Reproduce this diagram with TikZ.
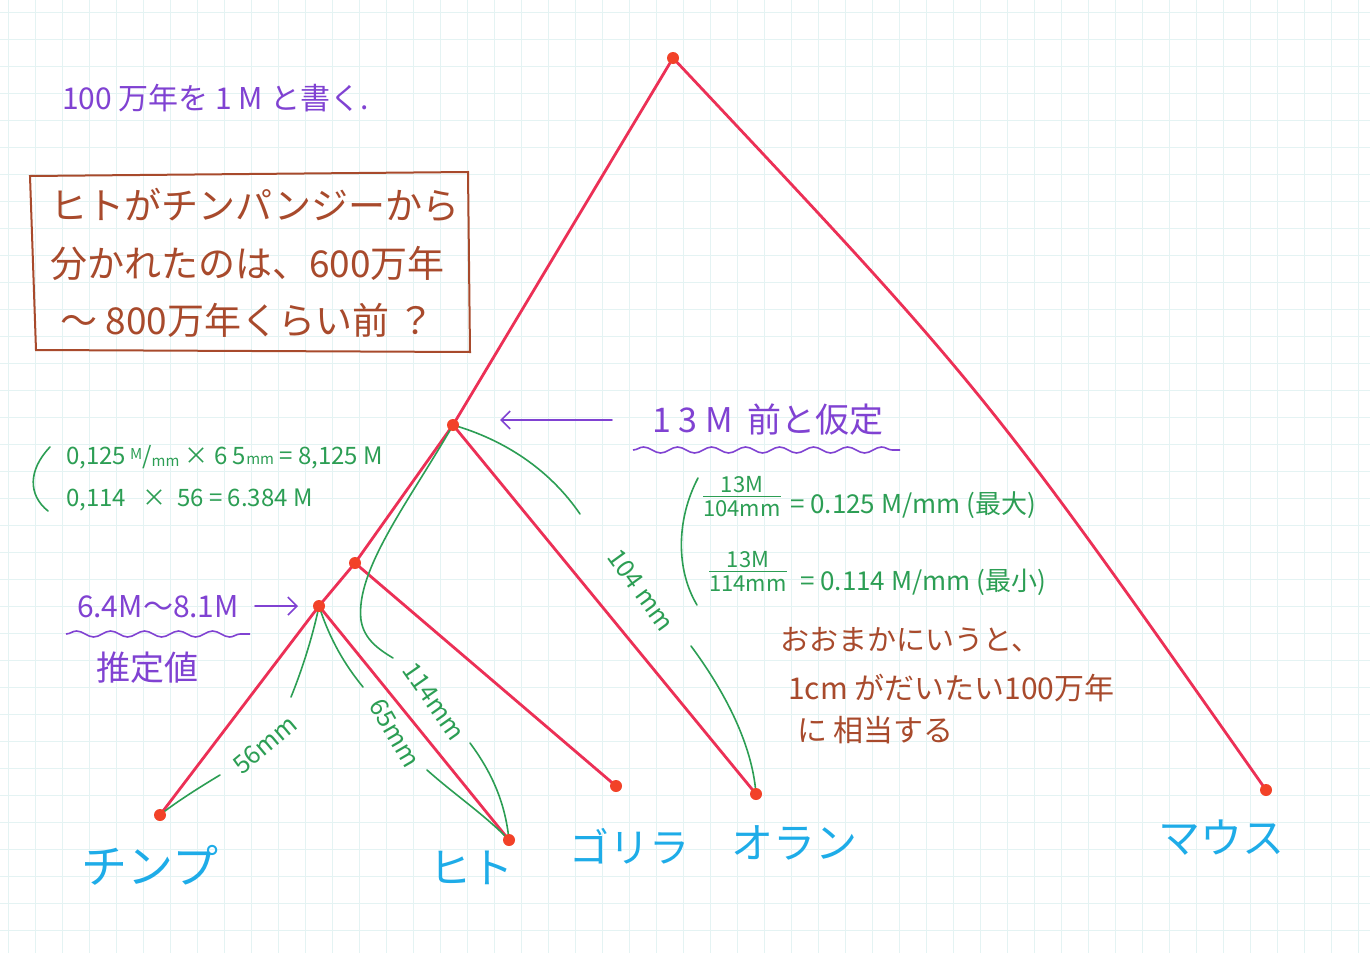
\documentclass[tikz,border=0pt]{standalone}
\usepackage{fontspec}
\setmainfont{Noto Sans CJK JP}
\usetikzlibrary{decorations.pathmorphing,arrows.meta}
\definecolor{redc}{RGB}{236,48,86}
\definecolor{dotc}{RGB}{242,66,40}
\definecolor{greenc}{RGB}{44,158,84}
\definecolor{purplec}{RGB}{128,66,210}
\definecolor{brownc}{RGB}{168,74,44}
\definecolor{cyanc}{RGB}{30,172,232}
\definecolor{gridc}{RGB}{228,243,243}
\newcommand\fsz[1]{\fontsize{#1}{#1}\selectfont}
\newcommand\smallunit{\fontsize{15}{15}\selectfont}
\begin{document}
\begin{tikzpicture}[x=1pt,y=-1pt,
  redl/.style={draw=redc, line width=2.8pt, line cap=round, line join=round},
  dot/.style={circle, fill=dotc, inner sep=0pt, minimum size=12pt},
  grn/.style={draw=greenc, line width=1.6pt, line cap=round},
  gtext/.style={text=greenc, inner sep=0pt},
  ptext/.style={text=purplec, inner sep=0pt},
  btext/.style={text=brownc, inner sep=0pt, anchor=west},
  ctext/.style={text=cyanc, inner sep=0pt},
  wavy/.style={draw=purplec, line width=1.6pt, decorate, decoration={snake, amplitude=3pt, segment length=34pt}},
  parr/.style={draw=purplec, line width=1.6pt, line cap=round, -{Straight Barb[length=9pt,width=18pt,line width=1.6pt]}},
]
\useasboundingbox (0,0) rectangle (1370,953);
\fill[white] (0,0) rectangle (1370,953);
% graph paper grid
\foreach \i in {0,...,51} { \draw[gridc, line width=0.8pt] ({\i*27+8},0) -- ({\i*27+8},953); }
\foreach \j in {0,...,35} { \draw[gridc, line width=0.8pt] (0,{\j*27+12}) -- (1370,{\j*27+12}); }

% tree coordinates
\coordinate (root) at (673,58);
\coordinate (n1) at (453,425);
\coordinate (n2) at (355,563);
\coordinate (n3) at (319,606);
\coordinate (chimp) at (160,815);
\coordinate (human) at (509,840);
\coordinate (gorilla) at (616,786);
\coordinate (oran) at (756,794);
\coordinate (mouse) at (1266,790);

% red branches
\draw[redl] (root) -- (n1) -- (n2) -- (n3) -- (chimp);
\draw[redl] (root) .. controls (985,390) .. (mouse);
\draw[redl] (n1) -- (oran);
\draw[redl] (n2) -- (gorilla);
\draw[redl] (n3) -- (human);

% green measuring curves
\coordinate (g104a) at (580,514);
\coordinate (g104b) at (691,646);
\coordinate (g114a) at (393,658);
\coordinate (g114b) at (470,743);
\coordinate (g65a) at (363,687);
\coordinate (g65b) at (427,770);
\coordinate (g56a) at (291,697);
\coordinate (g56b) at (220,775);

\draw[grn] (n1) .. controls (505,440) and (550,470) .. (g104a);
\draw[grn] (g104b) .. controls (720,685) and (752,740) .. (oran);
\draw[grn] (n1) .. controls (410,500) and (355,570) .. (361,620) .. controls (364,640) and (380,650) .. (g114a);
\draw[grn] (g114b) .. controls (490,770) and (505,800) .. (human);
\draw[grn] (n3) .. controls (330,640) and (345,665) .. (g65a);
\draw[grn] (g65b) .. controls (455,795) and (485,815) .. (human);
\draw[grn] (n3) .. controls (312,640) and (300,675) .. (g56a);
\draw[grn] (g56b) .. controls (195,790) and (172,805) .. (chimp);

\node[gtext, rotate=-54] (l104) at (641,590) {\fsz{25}104 mm};
\node[gtext, rotate=-55] (l114) at (434,701) {\fsz{25}114mm};
\node[gtext, rotate=-60] (l65) at (395,733) {\fsz{25}65mm};
\node[gtext, rotate=40] (l56) at (265,745) {\fsz{25}56mm};

% dots
\foreach \p in {root,n1,n2,n3,chimp,human,gorilla,oran,mouse} { \node[dot] (d\p) at (\p) {}; }

% top note
\node[ptext, anchor=west] (note) at (62,98) {\fsz{30}100 万年を\ 1\ M\ と書く.};

% brown box
\draw[brownc, line width=2pt] (30,176) -- (468,172) -- (470,352) -- (36,350) -- cycle;
\node[btext] (b1) at (50,205) {\fsz{37}ヒトがチンパンジーから};
\node[btext] (b2) at (50,263) {\fsz{37}分かれたのは、600万年};
\node[btext] (b3) at (60,320) {\fsz{37}〜 800万年くらい前 ？};

% 13M assumption
\node[ptext] (assume) at (768,420) {\fsz{34}1 3 M\ \ 前と仮定};
\draw[wavy] (633,450) -- (900,450);
\coordinate (arrA) at (612,420);
\coordinate (arrB) at (500,420);
\draw[parr] (arrA) -- (arrB);

% estimate
\node[ptext] (est) at (158,607) {\fsz{30}6.4M〜8.1M};
\draw[wavy] (66,634) -- (250,634);
\coordinate (arrC) at (255,606);
\coordinate (arrD) at (298,606);
\draw[parr] (arrC) -- (arrD);
\node[ptext] (estv) at (147,668) {\fsz{34}推定値};

% left green calculations
\draw[grn] (50,447) .. controls (28,470) and (28,495) .. (48,511);
\node[gtext, anchor=west] (c1) at (66,457) {\fsz{24}0,125\,\raisebox{5pt}{\smallunit M}/\raisebox{-2pt}{\smallunit mm} × 6 5{\smallunit mm} = 8,125 M};
\node[gtext, anchor=west] (c2) at (66,500) {\fsz{24}0,114\ \ \ ×\ \ 56 =\ 6.384 M};

% right green calculations
\draw[grn] (698,478) .. controls (676,520) and (676,570) .. (697,605);
\node[gtext] (f1) at (742,500) {\fsz{22}\begin{tabular}{@{}c@{}}13M\\[-3pt]\hline\rule{0pt}{20pt}104mm\end{tabular}};
\node[gtext, anchor=west] (r1) at (790,505) {\fsz{26}= 0.125 M/mm (最大)};
\node[gtext] (f2) at (748,575) {\fsz{22}\begin{tabular}{@{}c@{}}13M\\[-3pt]\hline\rule{0pt}{20pt}114mm\end{tabular}};
\node[gtext, anchor=west] (r2) at (800,582) {\fsz{26}= 0.114 M/mm (最小)};

% brown remark
\node[btext] (m1) at (780,640) {\fsz{29}おおまかにいうと、};
\node[btext] (m2) at (788,688) {\fsz{30}1cm がだいたい100万年};
\node[btext] (m3) at (797,730) {\fsz{30}に 相当する};

% species labels
\node[ctext] (tchimp) at (150,865) {\fsz{46}チンプ};
\node[ctext] (thuman) at (471,868) {\fsz{42}ヒト};
\node[ctext] (tgor) at (629,846) {\fsz{40}ゴリラ};
\node[ctext] (toran) at (794,843) {\fsz{42}オラン};
\node[ctext] (tmouse) at (1221,838) {\fsz{42}マウス};
\end{tikzpicture}
\end{document}
